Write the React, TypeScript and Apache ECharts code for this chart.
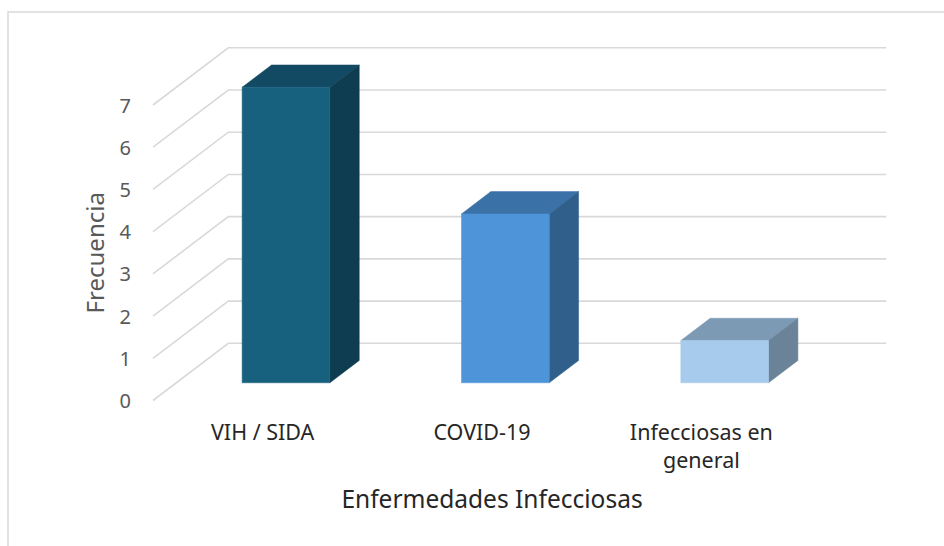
import React, { useEffect, useRef } from "react";
import * as echarts from "echarts";

const categories = ["VIH / SIDA", "COVID-19", "Infecciosas en\ngeneral"];
const values = [7, 4, 1];
const yTicks = [0, 1, 2, 3, 4, 5, 6, 7];
const frontColors = ["#17607e", "#4e94d9", "#a7cbec"];
const topColors = ["#134a63", "#3a71a6", "#7d9ab5"];
const sideColors = ["#0e3c50", "#305f8b", "#6b8399"];

const DX = 75.3;
const DY = -57.2;
const D1 = 0.31;
const D2 = 0.7;
const FONT = "'Noto Sans', 'Liberation Sans', Arial, sans-serif";

export default function App() {
  const ref = useRef<HTMLDivElement>(null);
  useEffect(() => {
    document.body.style.margin = "0";
    const chart = echarts.init(ref.current!, null, { renderer: "svg" });
    chart.setOption({
      animation: false,
      backgroundColor: "#ffffff",
      grid: { left: 153, right: 133, top: 105, bottom: 145.5, containLabel: false },
      graphic: [
        {
          type: "rect",
          shape: { x: 8, y: 12, width: 1000, height: 600 },
          style: { fill: "none", stroke: "#d9d9d9", lineWidth: 1.5 },
          z: -10,
          silent: true,
        },
      ],
      xAxis: {
        type: "category",
        data: categories,
        axisLine: { show: false },
        axisTick: { show: false },
        splitLine: { show: false },
        axisLabel: {
          margin: 17,
          fontSize: 21.5,
          lineHeight: 28,
          color: "#262626",
          fontFamily: FONT,
          interval: 0,
        },
        name: "Enfermedades Infecciosas",
        nameLocation: "middle",
        nameGap: 85.5,
        nameTextStyle: {
          fontSize: 24.5,
          lineHeight: 24,
          color: "#262626",
          fontFamily: FONT,
          padding: [0, 0, 0, 20],
        },
      },
      yAxis: {
        type: "value",
        min: 0,
        max: 7,
        interval: 1,
        axisLine: { show: false },
        axisTick: { show: false },
        splitLine: { show: false },
        axisLabel: { margin: 22, fontSize: 20, color: "#595959", fontFamily: FONT },
        name: "Frecuencia",
        nameLocation: "middle",
        nameGap: 47,
        nameRotate: 90,
        nameTextStyle: { fontSize: 24, color: "#595959", fontFamily: FONT },
      },
      series: [
        {
          type: "custom",
          silent: true,
          z: 1,
          data: yTicks.map((v) => [0, v]),
          renderItem: (params: any, api: any) => {
            const cs = params.coordSys;
            const y = api.coord([0, api.value(1)])[1];
            const x0 = cs.x;
            const x1 = cs.x + cs.width;
            return {
              type: "polyline",
              shape: {
                points: [
                  [x0, y],
                  [x0 + DX, y + DY],
                  [x1 + DX, y + DY],
                ],
              },
              style: { fill: "none", stroke: "#d9d9d9", lineWidth: 1.6 },
            };
          },
        },
        {
          type: "custom",
          silent: true,
          z: 2,
          data: values.map((v, i) => [i, v]),
          renderItem: (params: any, api: any) => {
            const i = api.value(0);
            const v = api.value(1);
            const base = api.coord([i, 0]);
            const top = api.coord([i, v]);
            const hw = api.size([1, 0])[0] * 0.4 / 2;
            const cx = base[0];
            const xl1 = cx - hw + D1 * DX;
            const xr1 = cx + hw + D1 * DX;
            const xl2 = cx - hw + D2 * DX;
            const xr2 = cx + hw + D2 * DX;
            const yb1 = base[1] + D1 * DY;
            const yt1 = top[1] + D1 * DY;
            const yb2 = base[1] + D2 * DY;
            const yt2 = top[1] + D2 * DY;
            const idx = params.dataIndex;
            return {
              type: "group",
              children: [
                {
                  type: "polygon",
                  shape: { points: [[xl1, yt1], [xr1, yt1], [xr2, yt2], [xl2, yt2]] },
                  style: { fill: topColors[idx], stroke: topColors[idx], lineWidth: 0.5 },
                },
                {
                  type: "polygon",
                  shape: { points: [[xr1, yt1], [xr2, yt2], [xr2, yb2], [xr1, yb1]] },
                  style: { fill: sideColors[idx], stroke: sideColors[idx], lineWidth: 0.5 },
                },
                {
                  type: "polygon",
                  shape: { points: [[xl1, yt1], [xr1, yt1], [xr1, yb1], [xl1, yb1]] },
                  style: { fill: frontColors[idx], stroke: frontColors[idx], lineWidth: 0.5 },
                },
              ],
            };
          },
        },
      ],
    });
    return () => chart.dispose();
  }, []);
  return <div ref={ref} style={{ width: 944, height: 546 }} />;
}
